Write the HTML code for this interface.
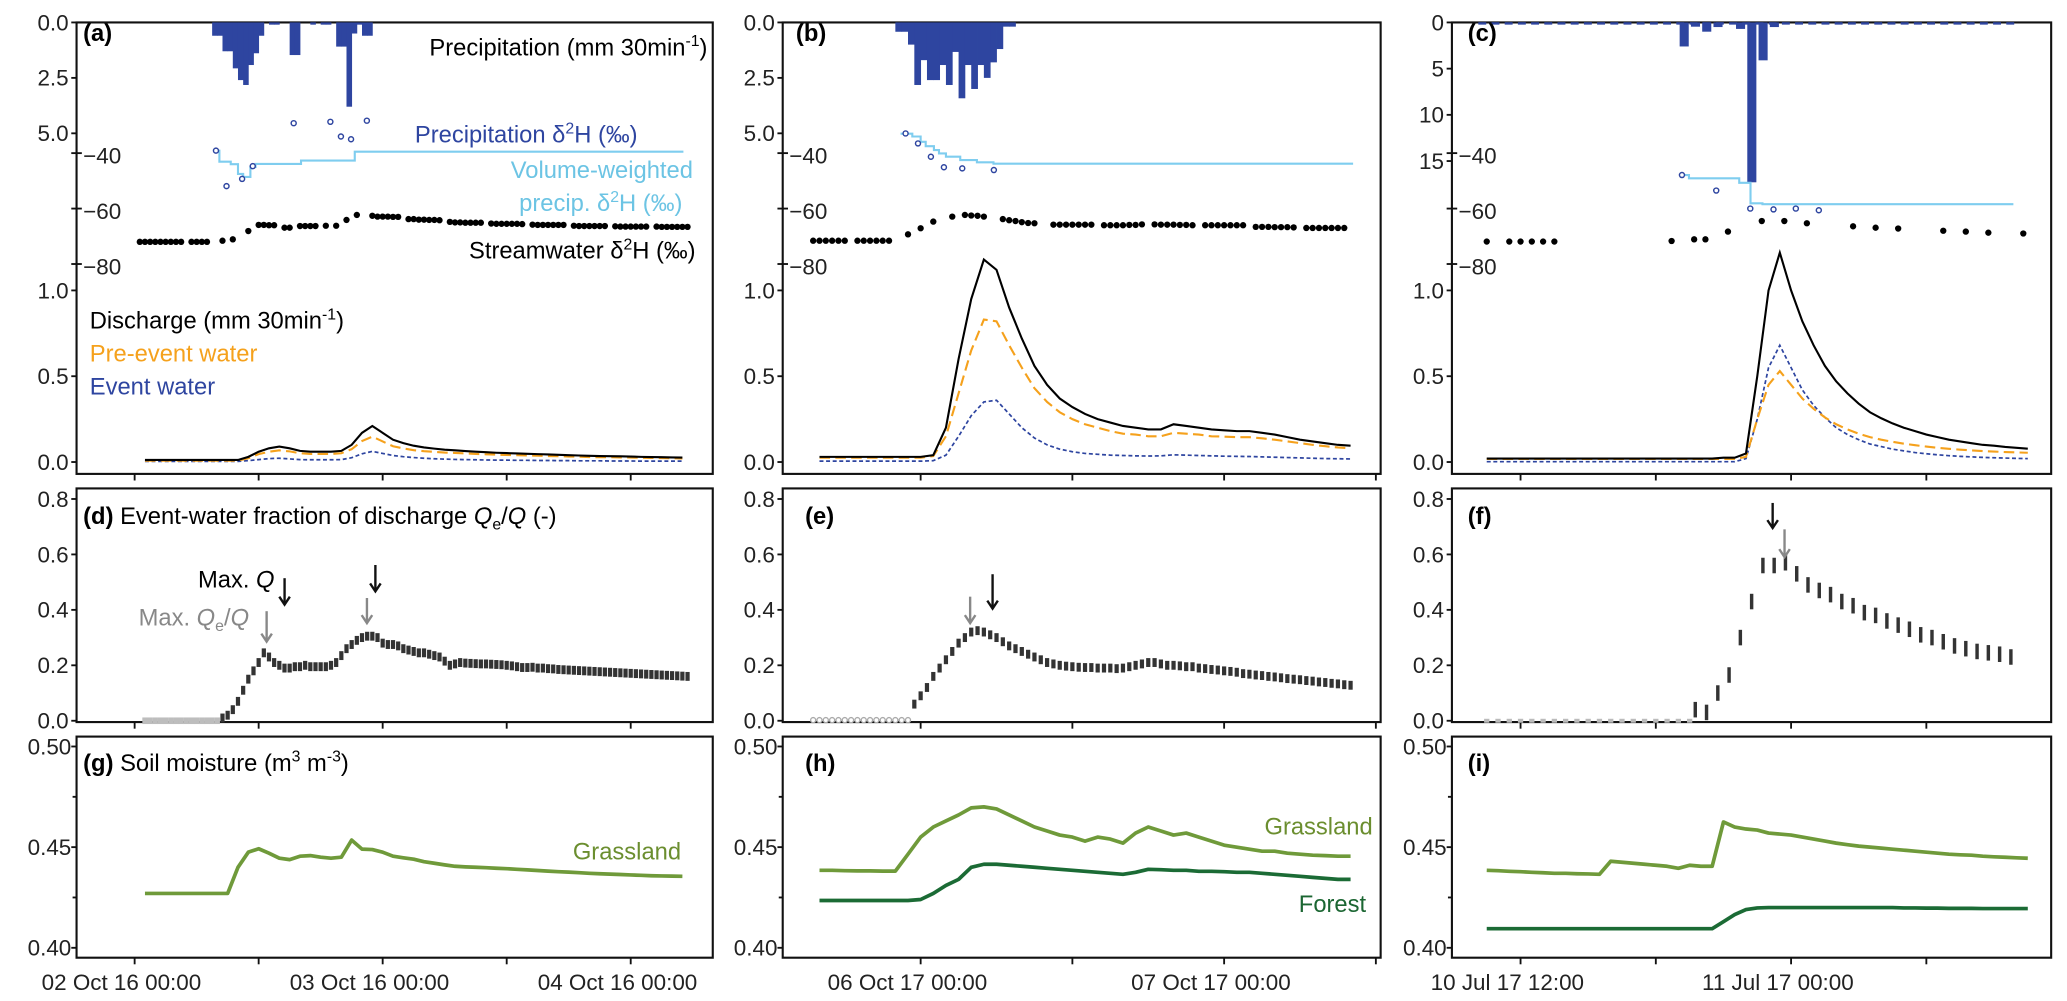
<!DOCTYPE html>
<html><head><meta charset="utf-8"><style>
html,body{margin:0;padding:0;background:#fff;}
svg{display:block;font-family:"Liberation Sans",Arial,sans-serif;}
.tk{font-size:17px;fill:#222;}
.lb{font-size:18px;}
</style></head><body>
<svg id="fig" xmlns="http://www.w3.org/2000/svg" width="2067" height="1001" viewBox="0 0 1566 758.3" preserveAspectRatio="none">
<rect x="0" y="0" width="1566" height="758.3" fill="#fff"/>
<g id="frames" fill="none" stroke="#111" stroke-width="1.6">
<rect x="58" y="17" width="482" height="342"/>
<rect x="593" y="17" width="453" height="342"/>
<rect x="1100" y="17" width="454" height="342"/>
<rect x="58" y="370" width="482" height="177"/>
<rect x="593" y="370" width="453" height="177"/>
<rect x="1100" y="370" width="454" height="177"/>
<rect x="58" y="558" width="482" height="167.5"/>
<rect x="593" y="558" width="453" height="167.5"/>
<rect x="1100" y="558" width="454" height="167.5"/>
</g>
<g id="marks"></g>
<g id="labels" class="lb">
<text x="63" y="31" font-weight="bold">(a)</text>
<text x="603" y="31" font-weight="bold">(b)</text>
<text x="1112" y="31" font-weight="bold">(c)</text>
<text x="536" y="42" text-anchor="end">Precipitation (mm 30min<tspan font-size="12" dy="-7">-1</tspan><tspan dy="7">)</tspan></text>
<text x="483" y="108" text-anchor="end" fill="#2e45a0">Precipitation δ<tspan font-size="12" dy="-7">2</tspan><tspan dy="7">H (‰)</tspan></text>
<text x="525" y="135" text-anchor="end" fill="#6cc4e4">Volume-weighted</text>
<text x="517" y="160" text-anchor="end" fill="#6cc4e4">precip. δ<tspan font-size="12" dy="-7">2</tspan><tspan dy="7">H (‰)</tspan></text>
<text x="527" y="196" text-anchor="end">Streamwater δ<tspan font-size="12" dy="-7">2</tspan><tspan dy="7">H (‰)</tspan></text>
<text x="68" y="249">Discharge (mm 30min<tspan font-size="12" dy="-7">-1</tspan><tspan dy="7">)</tspan></text>
<text x="68" y="274" fill="#f5a11c">Pre-event water</text>
<text x="68" y="299" fill="#2e45a0">Event water</text>
<text x="63" y="397"><tspan font-weight="bold">(d)</tspan> Event-water fraction of discharge <tspan font-style="italic">Q</tspan><tspan font-size="12" dy="4">e</tspan><tspan dy="-4">/</tspan><tspan font-style="italic">Q</tspan> (-)</text>
<text x="610" y="397" font-weight="bold">(e)</text>
<text x="1112" y="397" font-weight="bold">(f)</text>
<text x="150" y="445">Max. <tspan font-style="italic">Q</tspan></text>
<text x="105" y="474" fill="#888">Max. <tspan font-style="italic">Q</tspan><tspan font-size="12" dy="4">e</tspan><tspan dy="-4">/</tspan><tspan font-style="italic">Q</tspan></text>
<text x="63" y="584"><tspan font-weight="bold">(g)</tspan> Soil moisture (m<tspan font-size="12" dy="-7">3</tspan><tspan dy="7"> m</tspan><tspan font-size="12" dy="-7">-3</tspan><tspan dy="7">)</tspan></text>
<text x="610" y="584" font-weight="bold">(h)</text>
<text x="1112" y="584" font-weight="bold">(i)</text>
<text x="516" y="651" text-anchor="end" fill="#6b8e2f">Grassland</text>
<text x="1040" y="632" text-anchor="end" fill="#6b8e2f">Grassland</text>
<text x="1035" y="691" text-anchor="end" fill="#1b6632">Forest</text>
</g>
</svg>
<script>
// ---------- data: panel a ----------
const precipA_t0 = 7.5;
const precipA = [0.6,0.6,1.3,1.3,2.07,2.6,2.82,1.92,1.39,0.6,0,0.1,0.1,0,0,1.47,1.47,0,0,0.1,0,0.1,0.1,0,1.09,1.09,3.8,0.5,0.1,0.6,0.6];
const rainIsoA_t = [7.87,8.89,10.4,11.43,15.39,18.94,19.96,20.94,22.47];
const rainIsoA = [-39.1,-51.9,-49.3,-44.7,-29.2,-28.7,-34,-35,-28.3];
const vwA_t = [7.87,8.2,9.3,10.0,10.5,11.2,11.7,16.1,21.3,53.1];
const vwA = [-39.1,-43.1,-44,-47.5,-48.6,-45,-43.9,-42.7,-39.5,-39.5];
const streamA_t0 = 0.5;
const streamA = [-72,-72,-72,-72,-72,-72,-72,-72,-72,null,-72,-72,-72,-72,null,null,-71.6,null,-71.1,null,null,-68.1,null,-65.9,-65.9,-66,-66,null,-66.9,-66.9,null,-66.3,-66.3,-66.3,-66.3,null,-66.2,null,-66.2,null,-64.1,null,-62.3,null,null,-62.6,-62.9,-62.9,-62.9,-63,-63,null,-63.8,-63.8,-64,-64,-64.1,-64.1,-64.2,null,-64.8,-65,-65,-65.1,-65.1,-65.1,-65.1,null,-65.4,-65.5,-65.5,-65.5,-65.5,-65.5,-65.6,null,-65.8,-65.9,-65.9,-65.9,-65.9,-65.9,-65.9,null,-66.2,-66.3,-66.3,-66.3,-66.3,-66.3,-66.3,null,-66.4,-66.5,-66.5,-66.5,-66.5,-66.5,-66.5,null,-66.5,-66.6,-66.6,-66.6,-66.6,-66.6,-66.6];
const qA_t0 = 1;
const qA = [0.012,0.012,0.012,0.012,0.012,0.012,0.012,0.012,0.012,0.012,0.03,0.06,0.08,0.09,0.08,0.065,0.06,0.06,0.06,0.065,0.1,0.17,0.21,0.17,0.13,0.11,0.095,0.085,0.078,0.072,0.068,0.064,0.06,0.057,0.054,0.052,0.05,0.048,0.046,0.044,0.042,0.04,0.038,0.036,0.035,0.034,0.033,0.032,0.03,0.029,0.028,0.027,0.026];
const preA = [0.008,0.008,0.008,0.008,0.008,0.008,0.008,0.008,0.008,0.008,0.022,0.046,0.06,0.068,0.062,0.051,0.047,0.047,0.047,0.051,0.075,0.122,0.148,0.12,0.092,0.079,0.069,0.063,0.059,0.055,0.053,0.05,0.047,0.045,0.043,0.041,0.04,0.038,0.037,0.035,0.034,0.032,0.031,0.029,0.028,0.028,0.027,0.026,0.025,0.024,0.023,0.022,0.021];
const evA = [0.004,0.004,0.004,0.004,0.004,0.004,0.004,0.004,0.004,0.004,0.008,0.014,0.02,0.022,0.018,0.014,0.013,0.013,0.013,0.014,0.025,0.048,0.062,0.05,0.038,0.031,0.026,0.022,0.019,0.017,0.015,0.014,0.013,0.012,0.011,0.011,0.01,0.01,0.009,0.009,0.008,0.008,0.007,0.007,0.007,0.006,0.006,0.006,0.005,0.005,0.005,0.005,0.005];
const fracA_zero = [1, 8];
const fracA_t0 = 8.5;
const fracA = [0.01,0.02,0.04,0.07,0.11,0.15,0.18,0.21,0.245,0.23,0.21,0.2,0.19,0.19,0.195,0.195,0.2,0.195,0.195,0.195,0.195,0.2,0.21,0.235,0.26,0.275,0.29,0.3,0.305,0.305,0.3,0.28,0.275,0.275,0.27,0.26,0.255,0.25,0.245,0.245,0.24,0.235,0.23,0.215,0.2,0.205,0.21,0.208,0.207,0.206,0.205,0.205,0.204,0.203,0.202,0.2,0.198,0.195,0.192,0.192,0.193,0.19,0.19,0.188,0.187,0.185,0.184,0.183,0.182,0.181,0.18,0.179,0.178,0.177,0.176,0.175,0.174,0.173,0.172,0.171,0.17,0.169,0.168,0.167,0.166,0.165,0.164,0.163,0.162,0.161,0.16];
const soilGrassA_t0 = 1;
const soilGrassA = [0.427,0.427,0.427,0.427,0.427,0.427,0.427,0.427,0.427,0.44,0.4475,0.4492,0.447,0.4445,0.4438,0.4455,0.4458,0.445,0.4445,0.445,0.4535,0.449,0.4488,0.4475,0.4455,0.4447,0.444,0.4428,0.442,0.4412,0.4405,0.4402,0.44,0.4398,0.4395,0.4393,0.439,0.4387,0.4384,0.4381,0.4378,0.4376,0.4373,0.437,0.4368,0.4366,0.4364,0.4362,0.436,0.4358,0.4357,0.4356,0.4355];
// ---------- data: panel b ----------
const precipB_t0 = -2.0;
const precipB = [0.42,0.42,1.0,2.82,1.7,2.6,2.6,1.92,2.82,1.33,3.42,1.92,3.0,1.92,2.5,1.8,1.2,0.19,0.19];
const rainIsoB_t = [-1.19,-0.21,0.81,1.84,3.29,5.79];
const rainIsoB = [-32.9,-36.5,-41.3,-45.1,-45.5,-46.1];
const vwB_t = [-1.59,-0.66,0,0.4,1.05,1.45,2.0,3.13,4.45,5.76,34.2];
const vwB = [-33,-34,-35.9,-37.5,-38.9,-40.1,-41.3,-42.5,-43.3,-43.8,-43.8];
const streamB_t0 = -8.5;
const streamB = [-71.6,-71.6,-71.6,-71.6,-71.6,-71.6,null,-71.6,-71.6,-71.6,-71.6,-71.6,-71.6,null,null,-69.3,null,-67.1,null,-64.7,null,null,-62.9,null,-62.3,-62.5,-62.6,-62.9,null,null,-63.8,-64.2,-64.5,-64.9,-65.2,-65.3,null,null,-65.8,-65.8,-65.8,-65.8,-65.8,-65.8,-65.8,null,-66,-66,-66,-66,-65.9,-65.9,-65.7,null,-65.7,-65.8,-65.8,-65.8,-65.9,-65.9,-66,null,-66,-66,-66,-66,-66,-66,-66,null,-66.6,-66.6,-66.6,-66.7,-66.7,-66.7,-66.8,null,-67,-67,-67,-67,-67,-67,-67];
const qB_t0 = -8;
const qB = [0.03,0.03,0.03,0.03,0.03,0.03,0.03,0.03,0.03,0.04,0.2,0.6,0.95,1.18,1.12,0.9,0.72,0.56,0.45,0.37,0.32,0.28,0.25,0.23,0.21,0.2,0.19,0.19,0.22,0.21,0.2,0.19,0.185,0.18,0.18,0.17,0.16,0.145,0.13,0.12,0.11,0.1,0.095];
const preB = [0.025,0.025,0.025,0.025,0.025,0.025,0.025,0.025,0.025,0.035,0.15,0.4,0.65,0.83,0.82,0.68,0.55,0.43,0.35,0.29,0.25,0.22,0.2,0.18,0.165,0.16,0.15,0.15,0.17,0.165,0.16,0.15,0.148,0.145,0.145,0.138,0.13,0.12,0.11,0.1,0.092,0.085,0.08];
const evB = [0.005,0.005,0.005,0.005,0.005,0.005,0.005,0.005,0.005,0.008,0.04,0.15,0.27,0.35,0.36,0.28,0.2,0.14,0.1,0.075,0.06,0.05,0.045,0.04,0.038,0.036,0.035,0.036,0.042,0.04,0.038,0.036,0.034,0.033,0.032,0.03,0.028,0.026,0.024,0.022,0.02,0.019,0.018];
const fracB_zero = [-8.5, -1.0];
const fracB_t0 = -0.5;
const fracB = [0.06,0.09,0.12,0.16,0.19,0.22,0.25,0.28,0.3,0.32,0.325,0.32,0.31,0.3,0.285,0.27,0.26,0.25,0.24,0.23,0.22,0.21,0.205,0.2,0.197,0.195,0.193,0.192,0.192,0.19,0.19,0.19,0.188,0.19,0.195,0.2,0.205,0.21,0.21,0.205,0.2,0.2,0.198,0.195,0.195,0.19,0.188,0.185,0.183,0.18,0.178,0.175,0.17,0.168,0.165,0.163,0.16,0.158,0.155,0.152,0.15,0.148,0.145,0.143,0.14,0.138,0.135,0.133,0.13,0.128];
const soilB_t0 = -8;
const soilGrassB = [0.4385,0.4385,0.4383,0.4382,0.4382,0.4381,0.4381,0.4465,0.455,0.46,0.463,0.466,0.4695,0.47,0.469,0.466,0.463,0.46,0.458,0.456,0.455,0.453,0.455,0.454,0.452,0.457,0.46,0.458,0.456,0.457,0.455,0.453,0.451,0.45,0.449,0.448,0.448,0.447,0.4465,0.446,0.4458,0.4455,0.4455];
const soilForestB = [0.4235,0.4235,0.4235,0.4235,0.4235,0.4235,0.4235,0.4235,0.424,0.427,0.431,0.434,0.44,0.4415,0.4415,0.441,0.4405,0.44,0.4395,0.439,0.4385,0.438,0.4375,0.437,0.4365,0.4375,0.439,0.4388,0.4385,0.4385,0.438,0.438,0.4378,0.4375,0.4375,0.437,0.4365,0.436,0.4355,0.435,0.4345,0.434,0.434];
// ---------- data: panel c ----------
const precipC_t0 = 7.0;
const precipC = [2.6,0.46,1.0,0.5,0,0.7,17.3,4.1,0.5];
const rainIsoC_t = [7.16,8.68,10.19,11.22,12.21,13.23];
const rainIsoC = [-47.9,-53.5,-60,-60.3,-60,-60.6];
const vwC_t = [7.16,7.47,9.7,10.2,10.73,21.86];
const vwC = [-47.9,-49.1,-50.7,-58.1,-58.4,-58.4];
const streamC_t = [-1.5,-0.5,0,0.5,1.0,1.5,6.7,7.7,8.2,9.2,10.7,11.7,12.7,14.75,15.75,16.75,18.75,19.75,20.75,22.3];
const streamC = [-71.9,-71.9,-71.9,-71.9,-71.9,-71.9,-71.7,-71.1,-71.1,-68.3,-64.5,-64.5,-65.3,-66.4,-66.9,-67.2,-68,-68.3,-68.7,-69];
const qC_t0 = -1.5;
const qC = [0.02,0.02,0.02,0.02,0.02,0.02,0.02,0.02,0.02,0.02,0.02,0.02,0.02,0.02,0.02,0.02,0.02,0.02,0.02,0.02,0.02,0.025,0.025,0.05,0.5,1.0,1.22,1.0,0.82,0.68,0.56,0.47,0.4,0.34,0.29,0.255,0.225,0.2,0.18,0.16,0.145,0.13,0.12,0.11,0.1,0.095,0.088,0.083,0.078];
const preC = [0.018,0.018,0.018,0.018,0.018,0.018,0.018,0.018,0.018,0.018,0.018,0.018,0.018,0.018,0.018,0.018,0.018,0.018,0.018,0.018,0.018,0.018,0.018,0.03,0.25,0.45,0.53,0.45,0.37,0.31,0.26,0.22,0.19,0.165,0.145,0.13,0.118,0.107,0.098,0.09,0.083,0.077,0.072,0.068,0.064,0.061,0.058,0.056,0.054];
const evC = [0.002,0.002,0.002,0.002,0.002,0.002,0.002,0.002,0.002,0.002,0.002,0.002,0.002,0.002,0.002,0.002,0.002,0.002,0.002,0.002,0.002,0.002,0.002,0.02,0.25,0.55,0.68,0.55,0.42,0.33,0.26,0.2,0.16,0.13,0.105,0.09,0.075,0.065,0.055,0.048,0.042,0.037,0.033,0.03,0.027,0.025,0.023,0.021,0.02];
const fracC_zero = [-1.5, 7.5];
const fracC_t0 = 7.75;
const fracC = [0.04,0.03,0.1,0.165,0.3,0.43,0.56,0.56,0.57,0.53,0.49,0.47,0.455,0.43,0.415,0.39,0.38,0.36,0.345,0.33,0.31,0.3,0.285,0.27,0.26,0.25,0.245,0.24,0.23];
const soilC_t0 = -1.5;
const soilGrassC = [0.4385,0.4383,0.438,0.4378,0.4375,0.4373,0.437,0.437,0.4368,0.4367,0.4365,0.443,0.4425,0.442,0.4415,0.441,0.4405,0.4395,0.441,0.4405,0.4405,0.4625,0.46,0.459,0.4585,0.457,0.4565,0.456,0.455,0.454,0.453,0.452,0.4512,0.4505,0.45,0.4495,0.449,0.4485,0.448,0.4475,0.447,0.4465,0.4462,0.446,0.4455,0.4452,0.445,0.4447,0.4445];
const soilForestC = [0.4095,0.4095,0.4095,0.4095,0.4095,0.4095,0.4095,0.4095,0.4095,0.4095,0.4095,0.4095,0.4095,0.4095,0.4095,0.4095,0.4095,0.4095,0.4095,0.4095,0.4095,0.413,0.4165,0.419,0.4198,0.42,0.42,0.42,0.42,0.42,0.42,0.42,0.42,0.42,0.42,0.42,0.42,0.4198,0.4198,0.4197,0.4197,0.4196,0.4196,0.4196,0.4195,0.4195,0.4195,0.4195,0.4195];
// ---------- axis tick labels ----------
const precipTicksAB = [0, 2.5, 5.0];
const precipTicksC = [0, 5, 10, 15];
const isoTicks = [-40, -60, -80];
const qTicks = [0, 0.5, 1.0];
const fracTicks = [0, 0.2, 0.4, 0.6, 0.8];
const soilTicks = [0.40, 0.45, 0.50];
const soilMinor = [0.425, 0.475];
const timeTicksA = [0, 12, 24, 36, 48];
const timeTicksB = [0, 12, 24, 36];
const timeTicksC = [0, 6, 12, 18];
const timeLabelsA = [[0,'02 Oct 16 00:00'],[24,'03 Oct 16 00:00'],[48,'04 Oct 16 00:00']];
const timeLabelsB = [[0,'06 Oct 17 00:00'],[24,'07 Oct 17 00:00']];
const timeLabelsC = [[0,'10 Jul 17 12:00'],[12,'11 Jul 17 00:00']];

const NS = 'http://www.w3.org/2000/svg';
const G = document.getElementById('marks');
function mk(tag, attrs, parent){ const e = document.createElementNS(NS, tag); for (const k in attrs) e.setAttribute(k, attrs[k]); (parent||G).appendChild(e); return e; }

// scales
const xA = t => 102 + 7.83*t;
const xB = t => 697.5 + 9.58*t;
const xC = t => 1152 + 17.08*t;
const yPAB = v => 17 + 16.8*v;
const yPC = v => 17 + 7*v;
const yIso = v => 116 + (-40 - v)*2.1;
const yQ = v => 350 - 130*v;
const yF = v => 546 - 210*v;
const yS = v => 718 - 1525*(v - 0.4);

function bars(vals, t0, xs, ys, frac, name){
  vals.forEach((v,i)=>{
    if (!v) return;
    const x1 = xs(t0+0.5*i), x2 = xs(t0+0.5*i+0.5), w = (x2-x1)*frac;
    const r = mk('rect', {x:(x1+(x2-x1-w)/2).toFixed(2), y:ys(0), width:(w+0.3).toFixed(2), height:(ys(v)-ys(0)).toFixed(2), fill:'#2e45a0'});
    
    
  });
}
function series(vals, t0, step, xs, ys, style, name){
  const pts = vals.map((v,i)=> xs(t0+step*i).toFixed(2)+','+ys(v).toFixed(2)).join(' ');
  const p = mk('polyline', Object.assign({points:pts, fill:'none'}, style));
  
  
}
function stepLine(ts, vals, xs, ys, name){
  let d = 'M'+xs(ts[0]).toFixed(2)+' '+ys(vals[0]).toFixed(2);
  for (let i=1;i<ts.length;i++){ d += ' H'+xs(ts[i]).toFixed(2)+' V'+ys(vals[i]).toFixed(2); }
  const p = mk('path', {d:d, fill:'none', stroke:'#7fcdef', 'stroke-width':1.6});
  
  
}
function circles(ts, vals, xs, ys, name){
  ts.forEach((t,i)=>{
    const c = mk('circle', {cx:xs(t).toFixed(2), cy:ys(vals[i]).toFixed(2), r:1.9, fill:'#fff', stroke:'#2e45a0', 'stroke-width':1.1});
    
    
  });
}
function dots(ts, vals, xs, ys, name){
  vals.forEach((v,i)=>{
    if (v===null) return;
    const c = mk('circle', {cx:xs(ts(i)).toFixed(2), cy:ys(v).toFixed(2), r:2.4, fill:'#000'});
    
    
  });
}
function fracMarks(vals, t0, xs, err, w, name){
  vals.forEach((v,i)=>{
    const x = xs(t0+0.5*i);
    const r = mk('rect', {x:(x-w/2).toFixed(2), y:yF(v+err).toFixed(2), width:w, height:(yF(v-err)-yF(v+err)).toFixed(2), fill:'#333'});
    
    
  });
}
function zeroMarks(range, xs, kind, name){
  for (let t = range[0]; t <= range[1]+1e-9; t += 0.5){
    const x = xs(t);
    let e;
    if (kind==='rect') e = mk('rect', {x:(x-2).toFixed(2), y:yF(0)-2.5, width:4, height:5, fill:'#bdbdbd'});
    else if (kind==='circ') e = mk('circle', {cx:x.toFixed(2), cy:yF(0)-0.5, r:1.9, fill:'#fff', stroke:'#aaa', 'stroke-width':1});
    else e = mk('rect', {x:(x-2).toFixed(2), y:yF(0)-1.5, width:4, height:3, fill:'#bbb'});
    
    
  }
}
function txt(x, y, s, anchor, name){
  const e = mk('text', {x:x, y:y, 'text-anchor':anchor, class:'tk', dy:'0.35em'});
  e.textContent = s;
  
  
}
function tick(x1,y1,x2,y2,name){
  const l = mk('line', {x1:x1,y1:y1,x2:x2,y2:y2,stroke:'#111','stroke-width':1.4});
  
  
}

// y axes
[[58,precipTicksAB,yPAB,1],[593,precipTicksAB,yPAB,1],[1100,precipTicksC,yPC,0]].forEach(([ax,tks,ys,dec])=>{
  tks.forEach(v=>{ tick(ax-4,ys(v),ax,ys(v),'precip-y-tick'); txt(ax-6,ys(v),dec?v.toFixed(1):String(v),'end','precip-y-label'); });
  isoTicks.forEach(v=>{ tick(ax-4,yIso(v),ax+4,yIso(v),'isotope-y-tick'); txt(ax+5,yIso(v)+2,'\u2212'+String(-v),'start','isotope-y-label'); });
  qTicks.forEach(v=>{ tick(ax-4,yQ(v),ax,yQ(v),'discharge-y-tick'); txt(ax-6,yQ(v),v.toFixed(1),'end','discharge-y-label'); });
  fracTicks.forEach(v=>{ tick(ax-4,yF(v),ax,yF(v),'fraction-y-tick'); txt(ax-6,yF(v),v.toFixed(1),'end','fraction-y-label'); });
  soilTicks.forEach(v=>{ tick(ax-4,yS(v),ax,yS(v),'soil-y-tick'); txt(ax-4,yS(v),v.toFixed(2),'end','soil-y-label'); });
  soilMinor.forEach(v=>{ tick(ax-3,yS(v),ax,yS(v),'soil-y-minor-tick'); });
});
// x ticks
[[xA,timeTicksA,timeLabelsA],[xB,timeTicksB,timeLabelsB],[xC,timeTicksC,timeLabelsC]].forEach(([xs,tks,lbls])=>{
  tks.forEach(t=>{ const x=xs(t); [359,547,725.5].forEach(yb=>tick(x,yb,x,yb+5,'time-x-tick')); });
  lbls.forEach(([t,s])=>{
    const e = mk('text', {x:(xs(t)-10).toFixed(2), y:750, 'text-anchor':'middle', class:'tk'});
    e.textContent = s;
    
    
  });
});

// panel c dashed zero precip line
const zl = mk('line', {x1:1120, y1:17.8, x2:1530, y2:17.8, stroke:'#2e45a0', 'stroke-width':1.8, 'stroke-dasharray':'6 4'});



// precipitation
bars(precipA, precipA_t0, xA, yPAB, 1, 'precip-bar-a');
bars(precipB, precipB_t0, xB, yPAB, 1, 'precip-bar-b');
bars(precipC, precipC_t0, xC, yPC, 0.77, 'precip-bar-c');
// isotopes
stepLine(vwA_t, vwA, xA, yIso, 'vw-precip-line-a');
stepLine(vwB_t, vwB, xB, yIso, 'vw-precip-line-b');
stepLine(vwC_t, vwC, xC, yIso, 'vw-precip-line-c');
circles(rainIsoA_t, rainIsoA, xA, yIso, 'precip-isotope-point-a');
circles(rainIsoB_t, rainIsoB, xB, yIso, 'precip-isotope-point-b');
circles(rainIsoC_t, rainIsoC, xC, yIso, 'precip-isotope-point-c');
dots(i=>streamA_t0+0.5*i, streamA, xA, yIso, 'streamwater-point-a');
dots(i=>streamB_t0+0.5*i, streamB, xB, yIso, 'streamwater-point-b');
dots(i=>streamC_t[i], streamC, xC, yIso, 'streamwater-point-c');
// discharge
const sQ = {stroke:'#000','stroke-width':1.6};
const sP = {stroke:'#f5a11c','stroke-width':1.6,'stroke-dasharray':'8 4'};
const sE = {stroke:'#2e45a0','stroke-width':1.3,'stroke-dasharray':'3 2'};
series(evA, qA_t0, 1, xA, yQ, sE, 'event-water-line-a');
series(preA, qA_t0, 1, xA, yQ, sP, 'pre-event-line-a');
series(qA, qA_t0, 1, xA, yQ, sQ, 'discharge-line-a');
series(evB, qB_t0, 1, xB, yQ, sE, 'event-water-line-b');
series(preB, qB_t0, 1, xB, yQ, sP, 'pre-event-line-b');
series(qB, qB_t0, 1, xB, yQ, sQ, 'discharge-line-b');
series(evC, qC_t0, 0.5, xC, yQ, sE, 'event-water-line-c');
series(preC, qC_t0, 0.5, xC, yQ, sP, 'pre-event-line-c');
series(qC, qC_t0, 0.5, xC, yQ, sQ, 'discharge-line-c');
// event-water fraction
zeroMarks(fracA_zero, xA, 'rect', 'fraction-zero-marker-a');
zeroMarks(fracB_zero, xB, 'circ', 'fraction-zero-marker-b');
zeroMarks(fracC_zero, xC, 'dash', 'fraction-zero-marker-c');
fracMarks(fracA, fracA_t0, xA, 0.016, 3.2, 'fraction-marker-a');
fracMarks(fracB, fracB_t0, xB, 0.016, 3.2, 'fraction-marker-b');
fracMarks(fracC, fracC_t0, xC, 0.028, 2.6, 'fraction-marker-c');
// soil moisture
const sG = {stroke:'#6f9a3a','stroke-width':2.8,'stroke-linejoin':'round'};
const sF = {stroke:'#1b6b35','stroke-width':2.8,'stroke-linejoin':'round'};
series(soilGrassA, soilGrassA_t0, 1, xA, yS, sG, 'soil-grassland-line-g');
series(soilGrassB, soilB_t0, 1, xB, yS, sG, 'soil-grassland-line-h');
series(soilForestB, soilB_t0, 1, xB, yS, sF, 'soil-forest-line-h');
series(soilGrassC, soilC_t0, 0.5, xC, yS, sG, 'soil-grassland-line-i');
series(soilForestC, soilC_t0, 0.5, xC, yS, sF, 'soil-forest-line-i');

// arrows
function arrow(x, y1, y2, color, name){
  const g = mk('g', {stroke:color, 'stroke-width':1.8, fill:'none'});
  
  
  mk('line', {x1:x, y1:y1, x2:x, y2:y2}, g);
  mk('polyline', {points:(x-4)+','+(y2-6)+' '+x+','+y2+' '+(x+4)+','+(y2-6)}, g);
}
arrow(215.6, 438, 458, '#111', 'max-q-arrow-d1');
arrow(284.4, 428, 448, '#111', 'max-q-arrow-d2');
arrow(202, 463, 486, '#888', 'max-qe-arrow-d1');
arrow(278, 453, 472, '#888', 'max-qe-arrow-d2');
arrow(752, 435, 461, '#111', 'max-q-arrow-e');
arrow(735, 452, 472, '#888', 'max-qe-arrow-e');
arrow(1343, 381, 400, '#111', 'max-q-arrow-f');
arrow(1352, 401, 422, '#888', 'max-qe-arrow-f');
</script>
</body></html>
